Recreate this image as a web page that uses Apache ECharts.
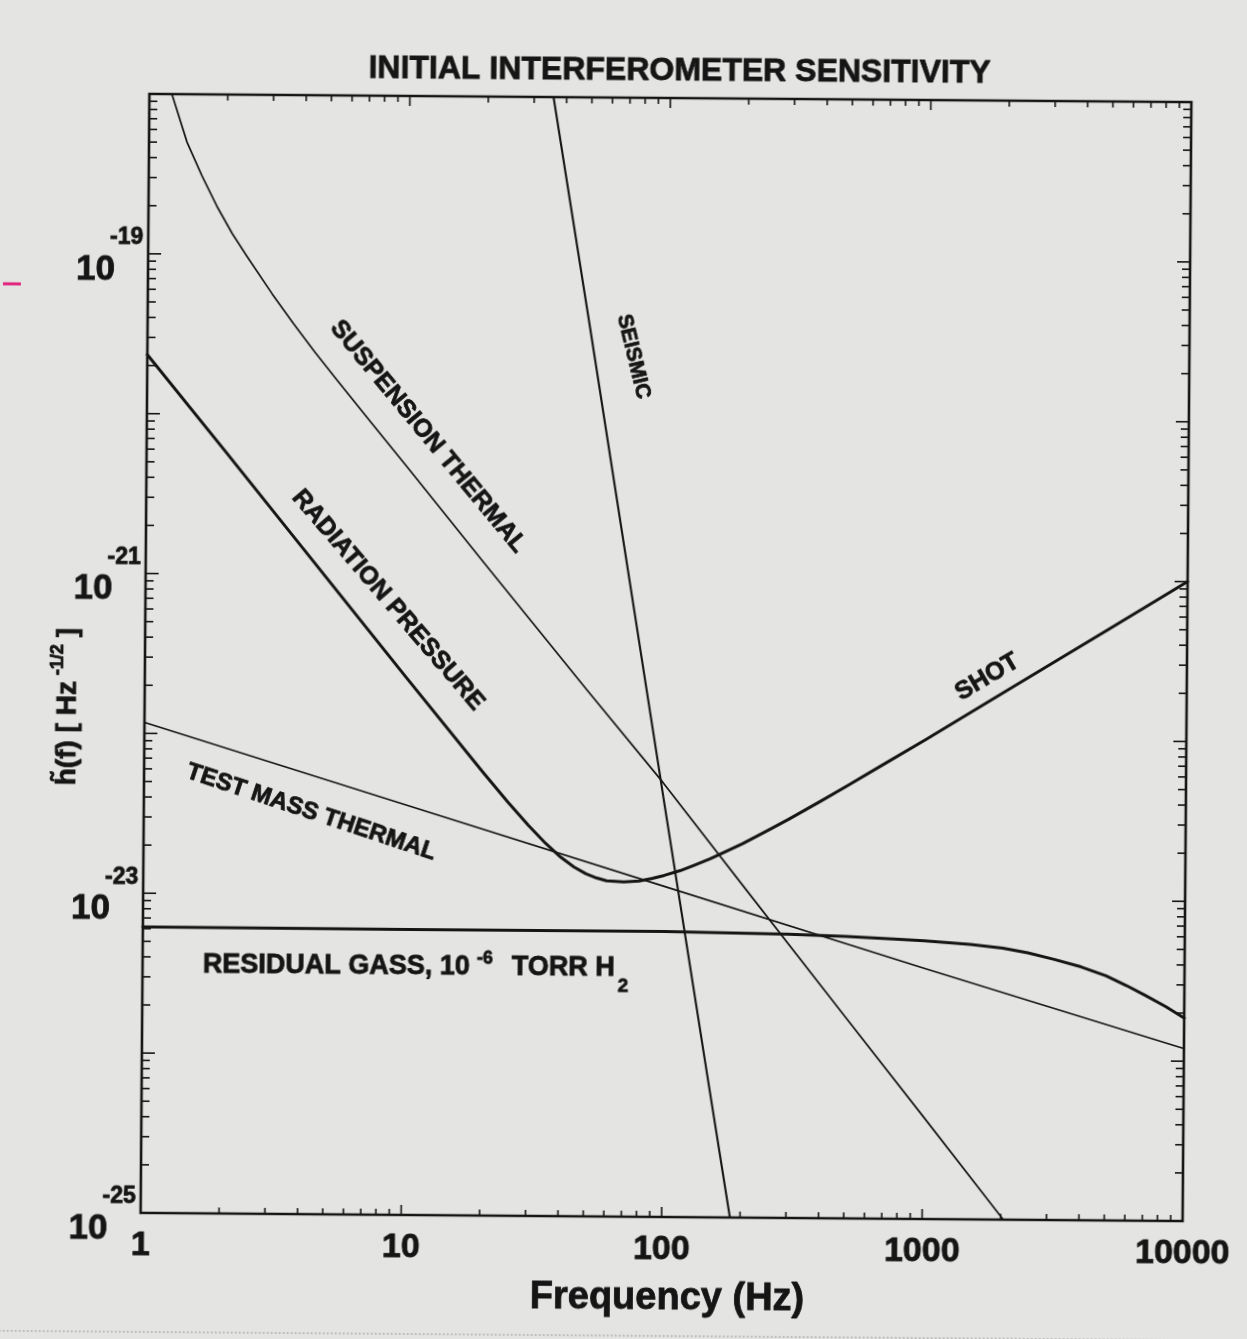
<!DOCTYPE html>
<html>
<head>
<meta charset="utf-8">
<script src="https://cdn.jsdelivr.net/npm/echarts/dist/echarts.min.js"></script>
<style>
html,body{margin:0;padding:0;background:#e4e4e2;overflow:hidden;}
#c{width:1247px;height:1339px;transform:rotate(0.45deg);transform-origin:666px 657px;}
</style>
</head>
<body>
<div id="c"></div>
<script>
// ---- data (frequency in Hz, strain in Hz^-1/2) ----
const FREQ_SUSP = [1.12, 1.17, 1.22, 1.4, 1.6, 1.83, 2.1, 2.39, 3.0, 3.63, 4.4, 5.35, 7, 10, 20, 50, 98, 200, 500, 1000, 2050, 2500];
const H_SUSP    = [1.58e-18, 1.25e-18, 1.0e-18, 5.0e-19, 3.1e-19, 2.0e-19, 1.35e-19, 9.8e-20, 5.7e-20, 3.72e-20, 2.47e-20, 1.66e-20, 9.7e-21, 4.8e-21, 1.2e-21, 1.95e-22, 5.25e-23, 1.2e-23, 1.82e-24, 4.4e-25, 1.0e-25, 6.6e-26];

const FREQ_OPT = [1, 2, 5, 10, 20, 25, 30, 35, 40, 45, 50, 55, 60, 70, 80, 90, 100, 115, 130, 150, 175, 200, 250, 300, 400, 500, 700, 1000, 2000, 5000, 10000];
const H_OPT    = [2.34e-20, 5.9e-21, 9.4e-22, 2.34e-22, 5.92e-23, 3.86e-23, 2.77e-23, 2.14e-23, 1.76e-23, 1.53e-23, 1.39e-23, 1.31e-23, 1.26e-23, 1.24e-23, 1.26e-23, 1.31e-23, 1.37e-23, 1.47e-23, 1.59e-23, 1.75e-23, 1.97e-23, 2.19e-23, 2.66e-23, 3.13e-23, 4.1e-23, 5.08e-23, 7.06e-23, 1.0e-22, 2.0e-22, 5.0e-22, 1.0e-21];

const FREQ_TM = [1, 10, 100, 1000, 10000];
const H_TM    = [1.17e-22, 3.7e-23, 1.17e-23, 3.7e-24, 1.2e-24];

const FREQ_GAS = [1, 10, 100, 300, 500, 800, 1000, 1500, 2000, 2500, 3160, 4000, 5000, 6000, 7080, 8500, 10000];
const H_GAS    = [6.15e-24, 6.12e-24, 6.1e-24, 5.95e-24, 5.8e-24, 5.6e-24, 5.5e-24, 5.25e-24, 5.0e-24, 4.68e-24, 4.27e-24, 3.85e-24, 3.39e-24, 2.95e-24, 2.57e-24, 2.19e-24, 1.86e-24];

const FREQ_SEIS = [33, 50, 100, 150, 190];
const H_SEIS    = [2.1e-18, 3.6e-20, 3.7e-23, 6.9e-25, 6.9e-26];

// axis ranges and ticks
const X_MIN = 1, X_MAX = 10000;
const Y_MIN = 1e-25, Y_MAX = 1e-18;
const X_DECADES = [1, 10, 100, 1000, 10000];
const Y_DECADES = [1e-25, 1e-24, 1e-23, 1e-22, 1e-21, 1e-20, 1e-19, 1e-18];
const MANTISSAS = [2, 3, 4, 5, 6, 7, 8, 9];
const Y_LABEL_EXPONENTS = [-19, -21, -23, -25];

// curve labels anchored in data space [f, h, angleDeg(clockwise), text]
const CURVE_LABELS = [
  [12.04, 7.4e-21, 50, 'SUSPENSION THERMAL'],
  [73.4, 2.4e-20, 76, 'SEISMIC'],
  [8.54, 7.0e-22, 49, 'RADIATION PRESSURE'],
  [4.39, 3.27e-23, 18, 'TEST MASS THERMAL'],
  [1714, 2.47e-22, -31, 'SHOT']
];
const GAS_LABEL_ANCHOR = [1.704, 3.56e-24];

const TITLE = 'INITIAL INTERFEROMETER SENSITIVITY';
const X_NAME = 'Frequency (Hz)';

// the y axis is plotted in units of 1e-25 Hz^-1/2 (avoids float precision limits on tiny numbers)
const Y_UNIT = 1e-25;
const Y_UNIT_EXP = -25;
const yv = (h) => h / Y_UNIT;

// ---- presentation ----
const FONT = '"Liberation Sans", Arial, Helvetica, sans-serif';
const INK = '#151515';
const pairs = (xs, ys) => xs.map((x, i) => [x, yv(ys[i])]);
const minorOf = (decades) => {
  const out = [];
  decades.slice(0, -1).forEach(d => MANTISSAS.forEach(m => out.push(m * d)));
  return out;
};

function xTicks(values, len) {
  return {
    type: 'custom', silent: true, clip: false, z: 6,
    data: values.map(v => [v, yv(Y_MIN)]),
    renderItem(params, api) {
      const v = api.value(0);
      const a = api.coord([v, yv(Y_MIN)]), b = api.coord([v, yv(Y_MAX)]);
      return { type: 'group', children: [
        { type: 'line', shape: { x1: a[0], y1: a[1], x2: a[0], y2: a[1] - len }, style: { stroke: INK, lineWidth: 1.6 } },
        { type: 'line', shape: { x1: b[0], y1: b[1], x2: b[0], y2: b[1] + len }, style: { stroke: INK, lineWidth: 1.6 } }
      ]};
    }
  };
}
function yTicks(values, len) {
  return {
    type: 'custom', silent: true, clip: false, z: 6,
    data: values.map(v => [X_MIN, yv(v)]),
    renderItem(params, api) {
      const v = api.value(1);
      const a = api.coord([X_MIN, v]), b = api.coord([X_MAX, v]);
      return { type: 'group', children: [
        { type: 'line', shape: { x1: a[0], y1: a[1], x2: a[0] + len, y2: a[1] }, style: { stroke: INK, lineWidth: 1.6 } },
        { type: 'line', shape: { x1: b[0], y1: b[1], x2: b[0] - len, y2: b[1] }, style: { stroke: INK, lineWidth: 1.6 } }
      ]};
    }
  };
}
function curve(name, xs, ys, width) {
  return {
    name, type: 'line', data: pairs(xs, ys), showSymbol: false, symbol: 'none',
    smooth: false, clip: true, silent: true, z: 3,
    lineStyle: { color: INK, width: width, join: 'round', cap: 'round' }
  };
}

const BORDER = { textBorderColor: INK, textBorderWidth: 0.8 };

const chart = echarts.init(document.getElementById('c'), null, { renderer: 'canvas' });
try {
chart.setOption({
  animation: false,
  backgroundColor: 'transparent',
  grid: { left: 145, right: 60, top: 98, bottom: 122, show: true, borderColor: INK, borderWidth: 2.6, backgroundColor: 'transparent' },
  xAxis: {
    type: 'log', logBase: 10, min: X_MIN, max: X_MAX, splitNumber: 4,
    axisLine: { show: false }, axisTick: { show: false }, splitLine: { show: false },
    axisLabel: Object.assign({ color: INK, fontFamily: FONT, fontWeight: 'bold', fontSize: 34, margin: 16, interval: 0,
      formatter: v => String(Math.round(v)) }, BORDER),
    name: X_NAME, nameLocation: 'middle', nameGap: 63,
    nameTextStyle: Object.assign({ color: INK, fontFamily: FONT, fontWeight: 'bold', fontSize: 38, padding: [0, 0, 0, 12] }, BORDER)
  },
  yAxis: {
    type: 'log', logBase: 10, min: yv(Y_MIN), max: yv(Y_MAX), splitNumber: 7,
    axisLine: { show: false }, axisTick: { show: false }, splitLine: { show: false },
    axisLabel: {
      margin: 5, interval: 0, color: INK,
      formatter: v => {
        const e = Math.round(Math.log10(v)) + Y_UNIT_EXP;
        return Y_LABEL_EXPONENTS.includes(e) ? '{s|' + e + '}\n{b|10}' : '';
      },
      rich: {
        s: Object.assign({ fontFamily: FONT, fontWeight: 'bold', fontSize: 23, lineHeight: 32, color: INK }, BORDER),
        b: Object.assign({ fontFamily: FONT, fontWeight: 'bold', fontSize: 35, lineHeight: 32, color: INK, padding: [0, 28, 0, 0] }, BORDER)
      }
    }
  },
  series: [
    curve('Suspension thermal', FREQ_SUSP, H_SUSP, 1.7),
    curve('Radiation pressure / shot', FREQ_OPT, H_OPT, 3),
    curve('Test mass thermal', FREQ_TM, H_TM, 1.7),
    curve('Residual gas', FREQ_GAS, H_GAS, 3),
    curve('Seismic', FREQ_SEIS, H_SEIS, 2.1),
    xTicks(X_DECADES, 10), xTicks(minorOf(X_DECADES), 6),
    yTicks(Y_DECADES, 13), yTicks(minorOf(Y_DECADES), 8)
  ]
});

// ---- annotations, positioned through the chart's own scales ----
const toPx = (f, h) => chart.convertToPixel({ gridIndex: 0 }, [f, yv(h)]);
const bold = (size) => 'bold ' + size + 'px ' + FONT;
const txt = (x, y, text, size, align) => ({
  type: 'text', x: x, y: y, silent: true,
  style: { text: text, font: bold(size), fill: INK, stroke: INK, lineWidth: 0.8,
    align: align || 'left', textAlign: align || 'left', verticalAlign: 'middle', textVerticalAlign: 'middle' }
});

const graphics = [];
graphics.push(txt(675, 71, TITLE, 32, 'center'));

CURVE_LABELS.forEach(([f, h, ang, text]) => {
  const p = toPx(f, h);
  const size = text === 'SEISMIC' ? 21 : (text === 'TEST MASS THERMAL' ? 24 : 25);
  const el = txt(p[0], p[1], text, size, 'center');
  el.rotation = -ang * Math.PI / 180;
  graphics.push(el);
});

const g = toPx(GAS_LABEL_ANCHOR[0], GAS_LABEL_ANCHOR[1]);
graphics.push({ type: 'group', x: g[0], y: g[1], silent: true, children: [
  txt(0, 0, 'RESIDUAL GASS, 10', 27),
  txt(274, -9, '-6', 18),
  txt(309, 0, 'TORR H', 27),
  txt(415, 18, '2', 19)
]});

// y-axis title, reading bottom to top
graphics.push({ type: 'group', x: 68, y: 790, rotation: Math.PI / 2, silent: true, children: [
  txt(0, 0, 'h\u0303(f) [ Hz', 28),
  txt(110, -10, '-1/2', 18),
  txt(148, 0, ']', 28)
]});

// scan artefacts at the page edges
graphics.push({ type: 'line', silent: true, shape: { x1: 0, y1: 289, x2: 18, y2: 289 }, style: { stroke: '#e0207a', lineWidth: 3 } });
graphics.push({ type: 'line', silent: true, shape: { x1: 0, y1: 1336, x2: 1247, y2: 1336 }, style: { stroke: '#9a9a9a', lineWidth: 1, lineDash: [2, 2] } });

chart.setOption({ graphic: graphics });
} catch (e) {
  console.error(e);
}
</script>
</body>
</html>
